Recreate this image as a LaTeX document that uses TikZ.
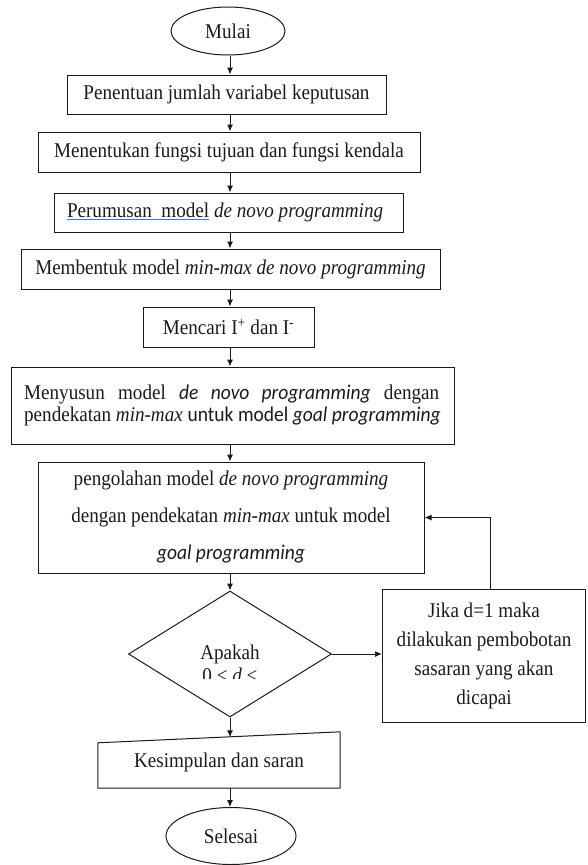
\documentclass[tikz,border=0pt]{standalone}
\usepackage{fontspec}
\setmainfont{Liberation Serif}[FakeStretch=0.91]
\newfontfamily\calibrifont{Carlito}[FakeStretch=0.93]
\usetikzlibrary{arrows.meta,calc,shapes.geometric}
\definecolor{Ink}{HTML}{1A1A1A}
\definecolor{LinkBlue}{HTML}{4472C4}
\newsavebox{\ulbox}
\newcommand{\blueul}[1]{\sbox{\ulbox}{#1}\rlap{\textcolor{LinkBlue}{\rule[-2.5pt]{\wd\ulbox}{0.8pt}}}\usebox{\ulbox}}
\newcommand{\boxfont}{\fontsize{21}{22}\selectfont}

\begin{document}
\begin{tikzpicture}[x=1pt, y=-1pt,
  every node/.style={font=\boxfont, text=Ink},
  stepbox/.style={draw=Ink, line width=1pt, inner sep=0pt},
  terminal/.style={ellipse, draw=Ink, line width=1pt, inner sep=0pt},
  flow/.style={draw=Ink, line width=1pt, -{Latex[length=7pt,width=6pt]}}]
  \useasboundingbox (0,0) rectangle (587,865);
  \coordinate (axis) at (230,0);

  % start and the first steps
  \node[terminal, minimum width=114pt, minimum height=48pt] (mulai) at (228,31) {Mulai};
  \node[stepbox, minimum width=319pt, minimum height=39pt] (tentu) at (226.5,94.5) {Penentuan jumlah variabel keputusan};
  \node[stepbox, minimum width=382pt, minimum height=40pt] (fungsi) at (229,152) {Menentukan fungsi tujuan dan fungsi kendala};
  \node[stepbox, minimum width=349pt, minimum height=39pt] (rumus) at (228.5,212.5) {\makebox[323pt][l]{\blueul{Perumusan\ \ model} \textit{de novo programming}}};
  \node[stepbox, minimum width=419pt, minimum height=40pt] (bentuk) at (230.5,269) {Membentuk model \textit{min-max de novo programming}};
  \node[stepbox, minimum width=171pt, minimum height=40pt] (cari) at (228.5,327) {Mencari I\textsuperscript{+} dan I\textsuperscript{-}};

  % model building
  \node[stepbox, minimum width=443pt, minimum height=77pt, align=left] (susun) at (232.5,405.5)
    {\makebox[415pt][s]{Menyusun model {\calibrifont\itshape de novo programming} dengan}\\
     pendekatan \textit{min-max} {\calibrifont untuk model \itshape goal programming}};
  \node[stepbox, minimum width=386pt, minimum height=111pt, align=center, font=\fontsize{21}{37}\selectfont] (olah) at (231,517.5)
    {pengolahan model \textit{de novo programming}\\ dengan pendekatan \textit{min-max} untuk model\\ {\calibrifont\itshape goal programming}};

  % decision
  \node[diamond, draw=Ink, line width=1pt, minimum width=203pt, minimum height=126pt, inner sep=0pt] (tanya) at (230,654) {Apakah};
  \begin{scope}
    \clip (150,660) rectangle (310,678);
    \node (syarat) at (230,675) {0 < \textit{d} <};
  \end{scope}
  \node[stepbox, minimum width=203pt, minimum height=133pt, align=center, font=\fontsize{21}{29}\selectfont] (jika) at (484,655.5)
    {Jika d=1 maka\\ dilakukan pembobotan\\ sasaran yang akan\\ dicapai};

  % end
  \node[minimum width=242pt, minimum height=50.5pt, inner sep=0pt] (simpul) at (219,762.75) {Kesimpulan dan saran};
  \draw[Ink, line width=1pt] (simpul.south west) -- (simpul.south east) -- ($(simpul.north east)+(0,-5.5)$) -- ($(simpul.north west)+(0,5.5)$) -- cycle;
  \node[terminal, minimum width=130pt, minimum height=57pt] (selesai) at (231,836) {Selesai};

  % connectors
  \draw[flow] (mulai.south -| axis) -- (tentu.north -| axis);
  \draw[flow] (tentu.south -| axis) -- (fungsi.north -| axis);
  \draw[flow] (fungsi.south -| axis) -- (rumus.north -| axis);
  \draw[flow] (rumus.south -| axis) -- (bentuk.north -| axis);
  \draw[flow] (bentuk.south -| axis) -- (cari.north -| axis);
  \draw[flow] (cari.south -| axis) -- (susun.north -| axis);
  \draw[flow] (susun.south -| axis) -- (olah.north -| axis);
  \draw[flow] (olah.south -| axis) -- (tanya.north);
  \draw[flow] (tanya.east) -- (tanya.east -| jika.west);
  \draw[flow] ($(jika.north)+(6.5,0)$) |- (olah.east);
  \draw[flow] (tanya.south) -- (tanya.south |- simpul.north);
  \draw[flow] (simpul.south -| axis) -- (selesai.north -| axis);
\end{tikzpicture}
\end{document}
